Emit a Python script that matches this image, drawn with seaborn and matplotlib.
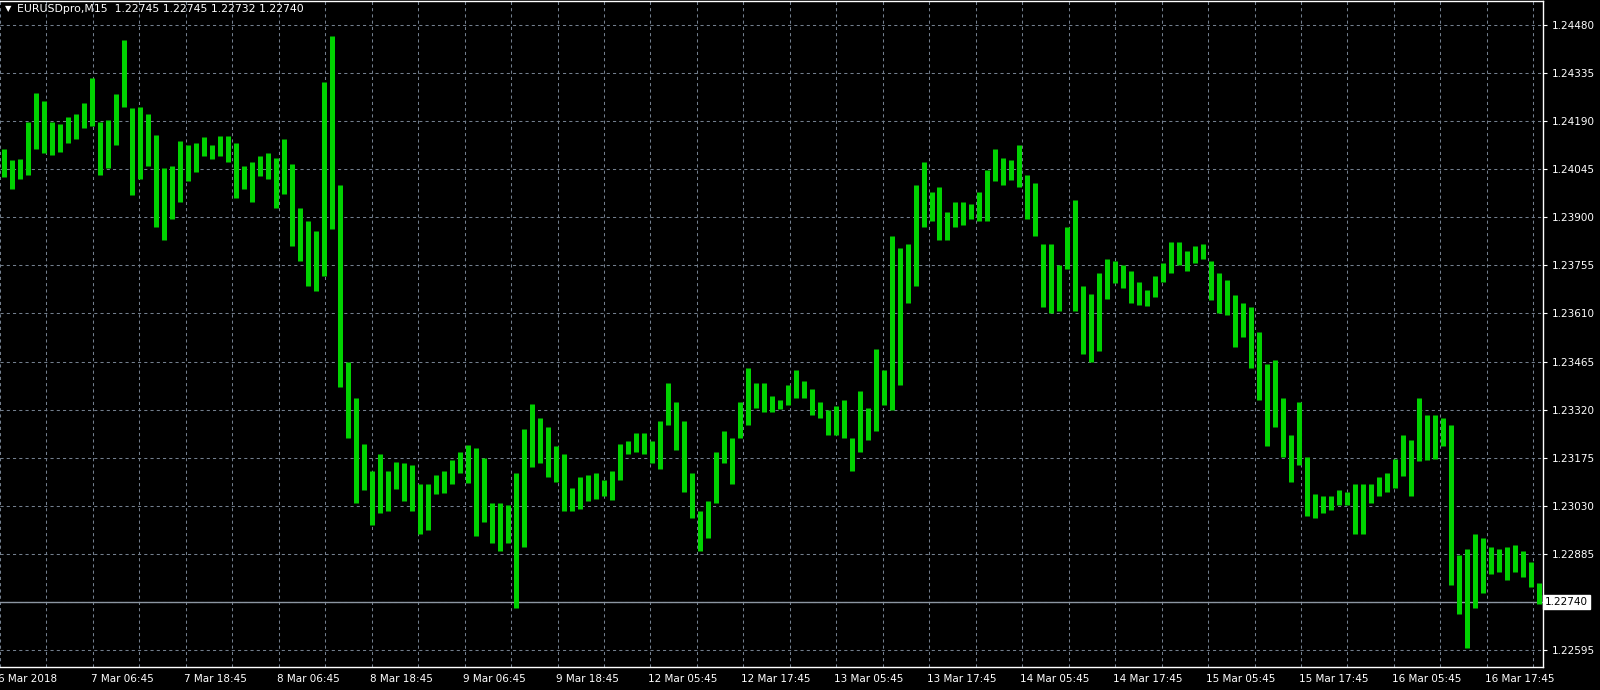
import numpy as np
import pandas as pd
import matplotlib
matplotlib.use("Agg")
import matplotlib.pyplot as plt
import matplotlib.transforms as mtransforms
import seaborn as sns

# EURUSD M15, high/low, one entry per ~4 bars
highs = [
    1.24105, 1.24074, 1.24076, 1.24188, 1.24274, 1.24251, 1.24188, 1.24182, 1.24203, 1.24213,
    1.24245, 1.24321, 1.24188, 1.24194, 1.24271, 1.24436, 1.24229, 1.24232, 1.24213, 1.24150,
    1.24048, 1.24055, 1.24131, 1.24118, 1.24124, 1.24143, 1.24118, 1.24147, 1.24147, 1.24124,
    1.24055, 1.24067, 1.24086, 1.24093, 1.24080, 1.24137, 1.24061, 1.23928, 1.23889, 1.23858,
    1.24309, 1.24448, 1.23997, 1.23464, 1.23356, 1.23216, 1.23136, 1.23185, 1.23134, 1.23162,
    1.23159, 1.23153, 1.23096, 1.23096, 1.23121, 1.23134, 1.23169, 1.23191, 1.23213, 1.23204,
    1.23174, 1.23039, 1.23039, 1.23032, 1.23127, 1.23261, 1.23337, 1.23293, 1.23267, 1.23210,
    1.23185, 1.23083, 1.23115, 1.23121, 1.23127, 1.23108, 1.23134, 1.23216, 1.23225, 1.23248,
    1.23248, 1.23225, 1.23286, 1.23401, 1.23343, 1.23286, 1.23127, 1.23013, 1.23045, 1.23191,
    1.23254, 1.23235, 1.23343, 1.23445, 1.23401, 1.23401, 1.23362, 1.23350, 1.23394, 1.23439,
    1.23407, 1.23381, 1.23343, 1.23318, 1.23331, 1.23350, 1.23235, 1.23375, 1.23324, 1.23502,
    1.23439, 1.23845, 1.23807, 1.23820, 1.23997, 1.24067, 1.23978, 1.23991, 1.23915, 1.23947,
    1.23947, 1.23940, 1.23978, 1.24042, 1.24105, 1.24080, 1.24074, 1.24118, 1.24029, 1.24004,
    1.23820, 1.23820, 1.23756, 1.23870, 1.23953, 1.23693, 1.23670, 1.23731, 1.23775, 1.23769,
    1.23756, 1.23737, 1.23705, 1.23680, 1.23724, 1.23762, 1.23826, 1.23826, 1.23797, 1.23813,
    1.23820, 1.23769, 1.23731, 1.23712, 1.23667, 1.23642, 1.23629, 1.23553, 1.23458, 1.23470,
    1.23356, 1.23242, 1.23343, 1.23178, 1.23064, 1.23058, 1.23058, 1.23077, 1.23070, 1.23096,
    1.23096, 1.23096, 1.23115, 1.23127, 1.23172, 1.23242, 1.23229, 1.23356, 1.23305, 1.23305,
    1.23293, 1.23273, 1.22880, 1.22899, 1.22943, 1.22931, 1.22905, 1.22899, 1.22905, 1.22912,
    1.22892, 1.22861, 1.22797,
]
lows = [
    1.24023, 1.23985, 1.24016, 1.24029, 1.24105, 1.24093, 1.24089, 1.24096, 1.24124, 1.24137,
    1.24169, 1.24175, 1.24029, 1.24048, 1.24118, 1.24232, 1.23966, 1.24016, 1.24055, 1.23870,
    1.23832, 1.23896, 1.23947, 1.24010, 1.24036, 1.24084, 1.24076, 1.24084, 1.24067, 1.23957,
    1.23985, 1.23947, 1.24025, 1.24016, 1.23928, 1.23972, 1.23813, 1.23769, 1.23693, 1.23677,
    1.23724, 1.23864, 1.23388, 1.23235, 1.23039, 1.23077, 1.22971, 1.23007, 1.23013, 1.23080,
    1.23045, 1.23013, 1.22943, 1.22956, 1.23064, 1.23068, 1.23096, 1.23127, 1.23098, 1.22937,
    1.22981, 1.22918, 1.22892, 1.22918, 1.22721, 1.22905, 1.23146, 1.23159, 1.23115, 1.23102,
    1.23013, 1.23013, 1.23020, 1.23045, 1.23051, 1.23058, 1.23047, 1.23108, 1.23185, 1.23191,
    1.23187, 1.23159, 1.23140, 1.23273, 1.23197, 1.23070, 1.22994, 1.22892, 1.22931, 1.23039,
    1.23159, 1.23096, 1.23235, 1.23273, 1.23324, 1.23314, 1.23314, 1.23322, 1.23334, 1.23356,
    1.23356, 1.23305, 1.23293, 1.23242, 1.23242, 1.23233, 1.23136, 1.23191, 1.23229, 1.23254,
    1.23334, 1.23318, 1.23394, 1.23642, 1.23693, 1.23870, 1.23889, 1.23832, 1.23832, 1.23870,
    1.23877, 1.23896, 1.23889, 1.23889, 1.24010, 1.23997, 1.24013, 1.23991, 1.23896, 1.23845,
    1.23629, 1.23610, 1.23616, 1.23743, 1.23616, 1.23489, 1.23464, 1.23496, 1.23655, 1.23703,
    1.23686, 1.23642, 1.23635, 1.23634, 1.23661, 1.23705, 1.23731, 1.23756, 1.23737, 1.23762,
    1.23775, 1.23652, 1.23610, 1.23604, 1.23508, 1.23540, 1.23445, 1.23350, 1.23210, 1.23267,
    1.23178, 1.23102, 1.23153, 1.23000, 1.22992, 1.23007, 1.23017, 1.23032, 1.23032, 1.22943,
    1.22943, 1.23039, 1.23058, 1.23070, 1.23083, 1.23119, 1.23058, 1.23166, 1.23169, 1.23172,
    1.23210, 1.22791, 1.22702, 1.22600, 1.22721, 1.22766, 1.22823, 1.22829, 1.22806, 1.22829,
    1.22816, 1.22785, 1.22734,
]

date_labels = [
    "6 Mar 2018", "7 Mar 06:45", "7 Mar 18:45", "8 Mar 06:45", "8 Mar 18:45",
    "9 Mar 06:45", "9 Mar 18:45", "12 Mar 05:45", "12 Mar 17:45", "13 Mar 05:45",
    "13 Mar 17:45", "14 Mar 05:45", "14 Mar 17:45", "15 Mar 05:45", "15 Mar 17:45",
    "16 Mar 05:45", "16 Mar 17:45",
]
price_levels = [
    1.22595, 1.22740, 1.22885, 1.23030, 1.23175, 1.23320, 1.23465,
    1.23610, 1.23755, 1.23900, 1.24045, 1.24190, 1.24335, 1.24480,
]
last_price = 1.22740
header = "EURUSDpro,M15  1.22745 1.22745 1.22732 1.22740"

bars_per_sample = 4.13   # each high/low entry covers about 4 M15 bars
bars_per_label = 48      # 12 hours between date labels

green = "#00d200"
grid_col = "#737f8e"

df = pd.DataFrame({"high": highs, "low": lows})
df["sample"] = np.arange(len(df))
df["bar"] = (df["sample"] + 0.5) * bars_per_sample
long = pd.concat([
    df[["sample", "bar"]].assign(price=df["high"]),
    df[["sample", "bar"]].assign(price=df["low"]),
])

sns.set_style("dark", rc={"axes.facecolor": "black", "figure.facecolor": "black",
                          "axes.edgecolor": "white", "grid.color": grid_col})
plt.rcParams["font.family"] = ["DejaVu Sans"]

fig = plt.figure(figsize=(16, 6.9), dpi=100, facecolor="black")
ax = fig.add_axes([0, 23 / 690, 1543 / 1600, 666 / 690])

sns.lineplot(data=long, x="bar", y="price", units="sample", estimator=None,
             color=green, linewidth=3.6, solid_capstyle="butt", ax=ax, legend=False)

ax.axhline(last_price, color="#8c96a2", linewidth=1.0, zorder=1)

ax.set_xlim(0, 797)
ax.set_ylim(1.22543, 1.24553)
ax.set_xlabel("")
ax.set_ylabel("")

major_x = [i * bars_per_label for i in range(len(date_labels))]
minor_x = [x + bars_per_label / 2 for x in major_x]
ax.set_xticks(major_x)
ax.set_xticks(minor_x, minor=True)
ax.set_xticklabels(date_labels)
ax.set_yticks(price_levels)
ax.set_yticklabels(["" if abs(p - last_price) < 1e-9 else f"{p:.5f}" for p in price_levels])
ax.yaxis.tick_right()

ax.grid(True, which="both", color=grid_col, linestyle=(0, (3, 3)), linewidth=0.75)
ax.set_axisbelow(True)
ax.tick_params(axis="x", which="major", length=3, width=0.8, color="white",
               labelcolor="white", labelsize=7.5, pad=2)
ax.tick_params(axis="x", which="minor", length=0)
ax.tick_params(axis="y", which="major", length=3, width=0.8, color="white",
               labelcolor="white", labelsize=7.5, pad=3, right=True, left=False)

shift = mtransforms.ScaledTranslation(-2 / 100, 0, fig.dpi_scale_trans)
for lab in ax.get_xticklabels():
    lab.set_horizontalalignment("left")
    lab.set_transform(lab.get_transform() + shift)

for side in ["top", "right", "bottom"]:
    ax.spines[side].set_visible(True)
    ax.spines[side].set_color("white")
    ax.spines[side].set_linewidth(1.0)
ax.spines["left"].set_visible(False)

# current price box on the scale
ax.text(1.0 + 2 / 1543, last_price, f"{last_price:.5f}", transform=ax.get_yaxis_transform(),
        ha="left", va="center", fontsize=7.5, color="black", clip_on=False,
        bbox=dict(boxstyle="square,pad=0.2", facecolor="white", edgecolor="white"))

fig.text(5 / 1600, 1 - 9 / 690, "\u25bc", color="white", fontsize=6, va="center", ha="left")
fig.text(17 / 1600, 1 - 9 / 690, header, color="white", fontsize=7.8, va="center", ha="left")

fig.savefig("out.png", dpi=100, facecolor="black")
